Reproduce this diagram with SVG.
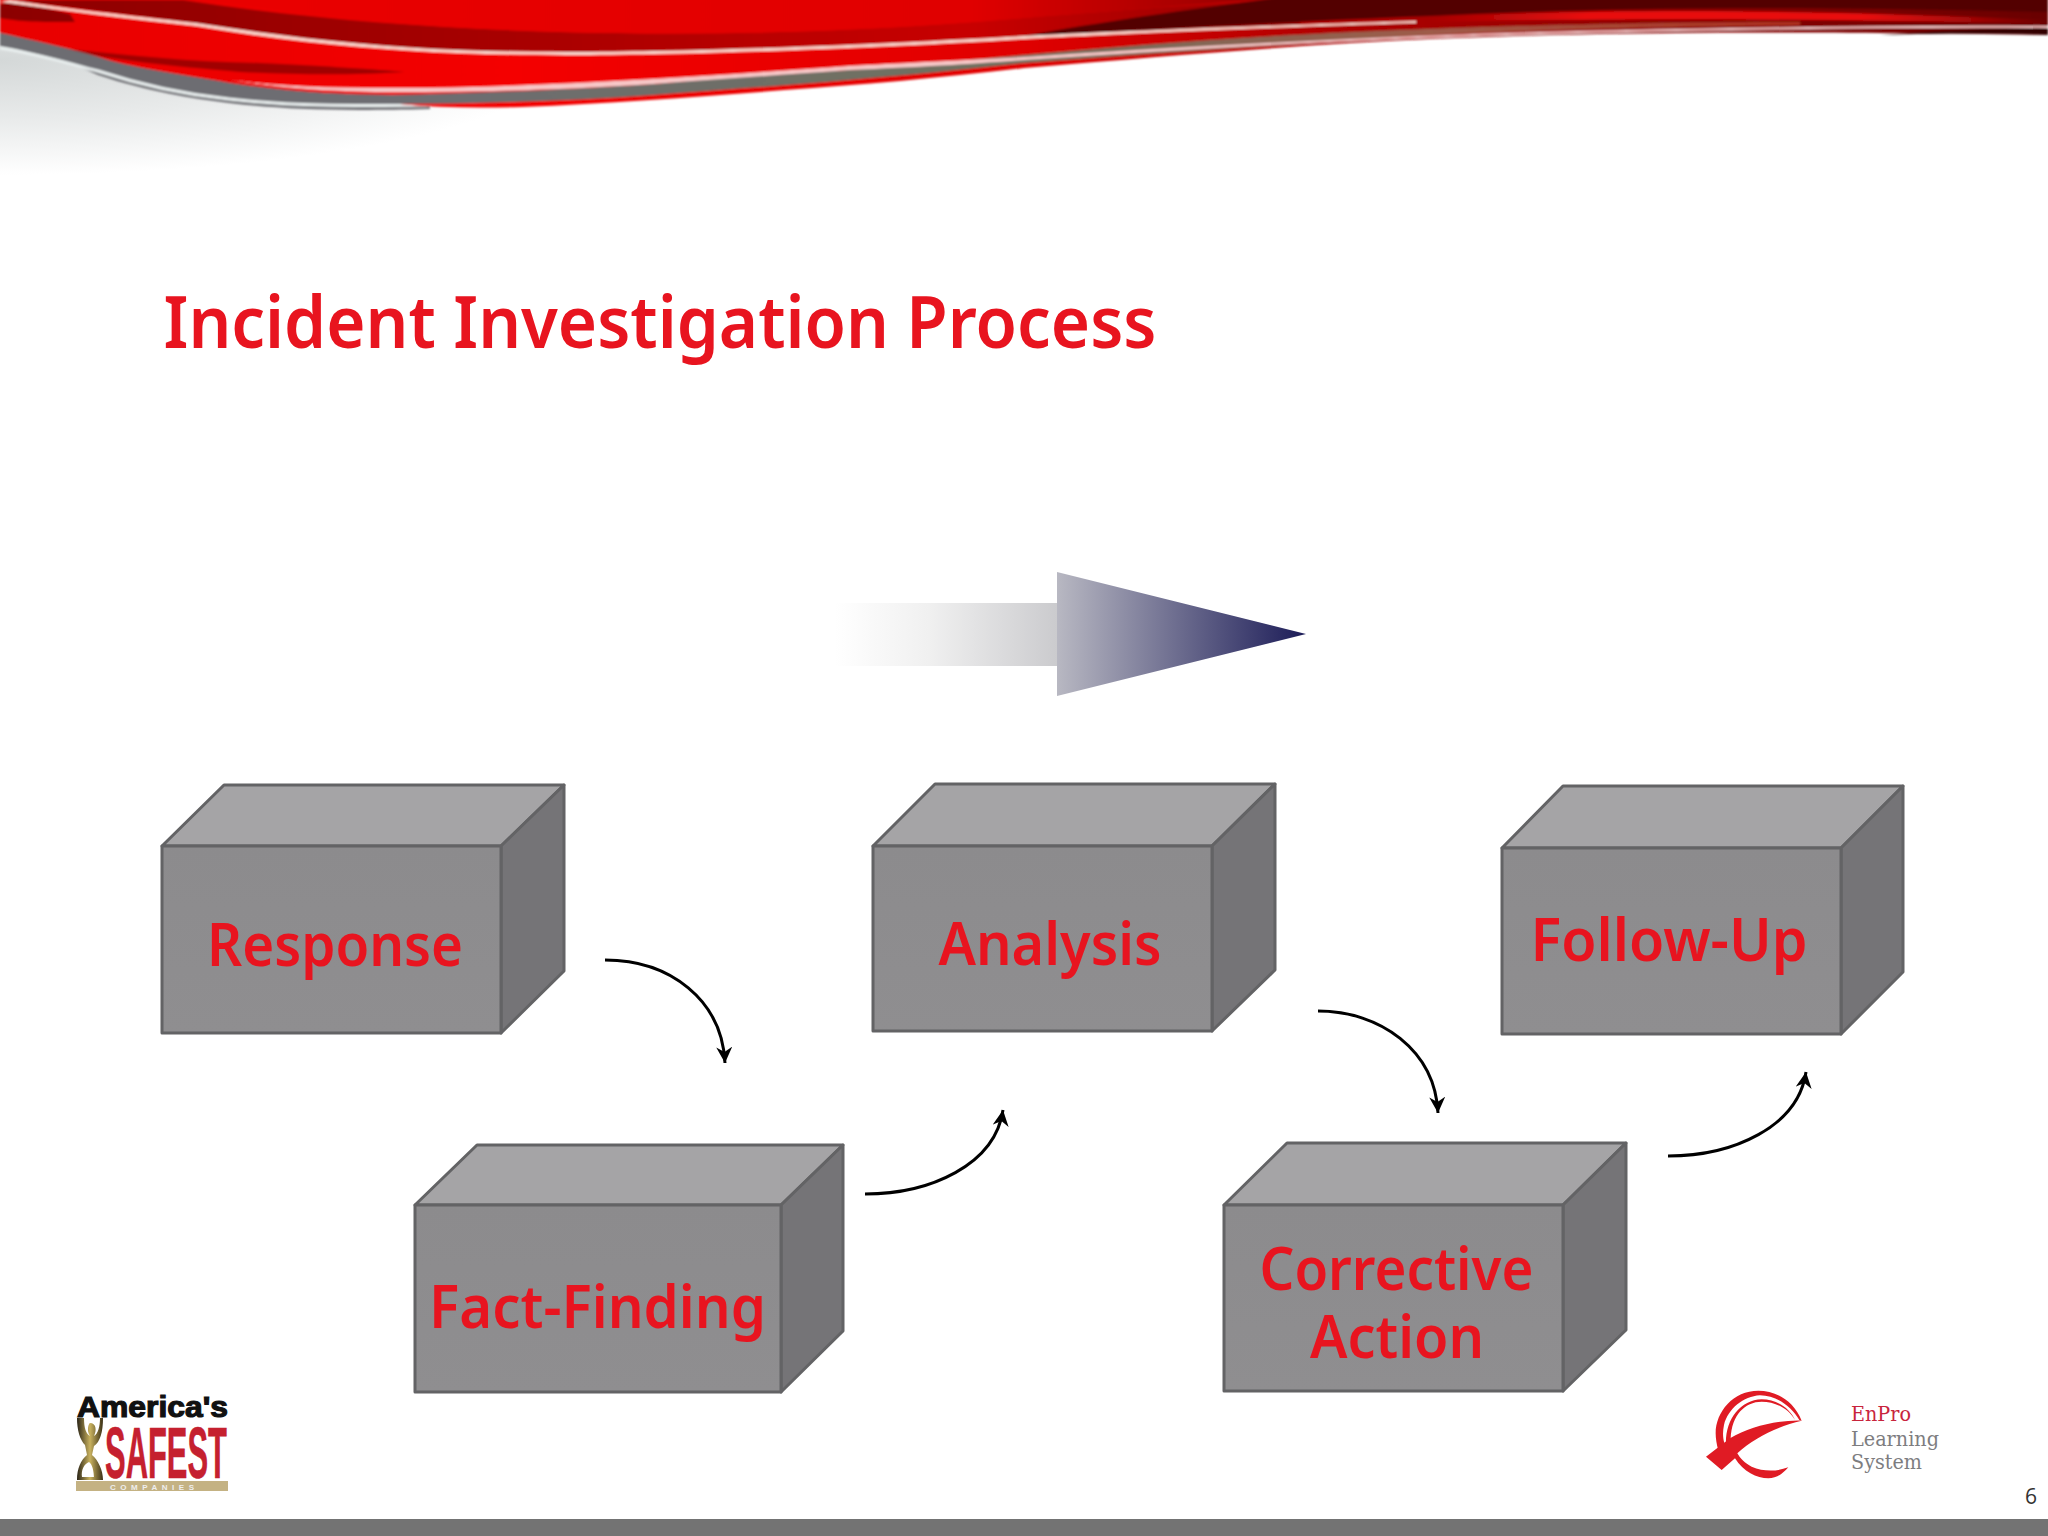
<svg xmlns="http://www.w3.org/2000/svg" width="2048" height="1536" viewBox="0 0 2048 1536">
<style>
.front{fill:url(#gF);stroke:#636365;stroke-width:3;stroke-linejoin:round}
.top{fill:#a5a4a6;stroke:#636365;stroke-width:3;stroke-linejoin:round}
.side{fill:#757477;stroke:#636365;stroke-width:3;stroke-linejoin:round}
.lbl{font-family:"Noto Sans","Open Sans",sans-serif;font-weight:600;fill:#e8141f;text-anchor:middle}
.box-label{font-size:60px}
.conn{fill:none;stroke:#000;stroke-width:3;marker-end:url(#ah)}
.slab{font-family:"DejaVu Serif",serif;font-size:20px}
</style>
<defs>
<linearGradient id="gF" x1="0" y1="0" x2="0" y2="1"><stop offset="0" stop-color="#8c8b8d"/><stop offset="1" stop-color="#8f8e90"/></linearGradient>
<marker id="ah" markerWidth="20" markerHeight="20" refX="16" refY="8" orient="auto" markerUnits="userSpaceOnUse"><path d="M0,0 L16,8 L0,16 L5,8 Z" fill="#000"/></marker>
<linearGradient id="gArrow" gradientUnits="userSpaceOnUse" x1="835" y1="0" x2="1306" y2="0"><stop offset="0" stop-color="#fff"/><stop offset=".2" stop-color="#f0f0f0"/><stop offset=".471" stop-color="#cbcbce"/><stop offset=".4715" stop-color="#b8b8c2"/><stop offset="1" stop-color="#1c1c58"/></linearGradient>
<linearGradient id="gRed" gradientUnits="userSpaceOnUse" x1="0" y1="0" x2="2048" y2="0"><stop offset="0" stop-color="#e80000"/><stop offset=".25" stop-color="#f40000"/><stop offset=".5" stop-color="#e00000"/><stop offset=".65" stop-color="#b00000"/><stop offset=".8" stop-color="#900000"/><stop offset="1" stop-color="#6a0000"/></linearGradient>
<linearGradient id="gDark" gradientUnits="userSpaceOnUse" x1="0" y1="0" x2="1300" y2="0"><stop offset="0" stop-color="#8c0000"/><stop offset=".4" stop-color="#a80000"/><stop offset=".75" stop-color="#c80000"/><stop offset="1" stop-color="#900000"/></linearGradient>
<linearGradient id="gTop" gradientUnits="userSpaceOnUse" x1="180" y1="0" x2="1400" y2="0"><stop offset="0" stop-color="#ea0000"/><stop offset=".65" stop-color="#e00000"/><stop offset="1" stop-color="#700000"/></linearGradient>
<linearGradient id="gBand" gradientUnits="userSpaceOnUse" x1="390" y1="0" x2="1800" y2="0"><stop offset="0" stop-color="#6d6d72"/><stop offset=".45" stop-color="#70705e"/><stop offset=".75" stop-color="#a05a48"/><stop offset="1" stop-color="#b03020"/></linearGradient>
<linearGradient id="gStreak" gradientUnits="userSpaceOnUse" x1="1430" y1="0" x2="2048" y2="0"><stop offset="0" stop-color="#e81010" stop-opacity="0"/><stop offset=".25" stop-color="#e81010"/><stop offset=".7" stop-color="#e81010"/><stop offset="1" stop-color="#e81010" stop-opacity="0"/></linearGradient>
<radialGradient id="gShadow" gradientUnits="userSpaceOnUse" cx="0" cy="0" r="1" gradientTransform="translate(0 60) scale(560 115)"><stop offset="0" stop-color="#d4d8d8"/><stop offset=".5" stop-color="#e8eaea"/><stop offset="1" stop-color="#fff"/></radialGradient>
<linearGradient id="gGold" x1="0" y1="0" x2="1" y2="0"><stop offset="0" stop-color="#2a2416"/><stop offset=".5" stop-color="#c9b25f"/><stop offset="1" stop-color="#3a3015"/></linearGradient>
<filter id="soft" x="-2%" y="-20%" width="104%" height="140%"><feGaussianBlur stdDeviation="1"/></filter>
</defs>
<rect width="2048" height="1536" fill="#fff"/>

<g id="header">
<ellipse cx="0" cy="60" rx="560" ry="115" fill="url(#gShadow)"/>
<g filter="url(#soft)">
<path d="M0,46 C40,52 70,62 98,75 C150,92 190,98 229,103 C290,110 340,111 430,109 V92 L229,80 L98,55 L0,30 Z" fill="#6d6d72"/>
<path d="M0,48 C40,54 70,64 98,71 C150,88 190,95 229,99 C290,106 350,106 430,105" fill="none" stroke="#e9efef" stroke-width="3"/>
<path d="M0,-4 H2048 V35 C1900,33 1780,32 1677,33 C1560,34 1460,37 1350,43 C1250,49 1140,58 1024,68 C940,78 860,85 784,90 C700,97 610,103 522,107 C480,108 440,108 400,104 L392,95 C340,95 290,92 229,83 C180,74 130,68 98,57 C60,46 30,40 0,33 Z" fill="url(#gRed)"/>
<path d="M0,5 L10,0 L196,23 C290,38 380,47 457,50 C540,53 600,52 653,51 C800,48 920,42 1024,37 L1300,24 L1300,0 C1200,4 1100,12 1024,18 C860,32 720,36 560,32 C430,28 300,18 183,0 L10,0 L70,14 L75,22 C40,22 20,22 0,18 Z" fill="url(#gDark)"/>
<path d="M183,-4 C300,18 430,28 560,32 C720,36 860,32 1024,18 C1100,12 1200,4 1300,-4 Z" fill="url(#gTop)"/>
<path d="M1290,-4 H2048 V12 C1800,6 1620,7 1430,16 C1280,22 1150,30 1024,36 C1100,22 1200,8 1290,-4 Z" fill="#520000"/>
<path d="M1430,17 C1600,9 1800,9 2048,20 V24 C1800,18 1600,18 1430,22 Z" fill="url(#gStreak)"/>
<path d="M1880,35 C1950,33 2000,33 2048,35 V28 C2000,29 1940,30 1880,35 Z" fill="#300000"/>
<path d="M65,49 C130,55 190,62 261,63 C320,66 360,68 405,72 C340,76 290,74 240,72 C170,66 110,60 65,49 Z" fill="#a00000"/>
<path d="M0,33 C30,40 60,46 98,57 C130,68 180,74 229,83 C290,92 340,95 392,95 C480,93 560,90 653,84 C720,78 780,74 849,70 C920,65 970,60 1024,55 C1150,44 1250,36 1400,30 C1560,24 1700,22 1800,22 L1800,25 C1600,27 1500,31 1350,40 C1240,48 1130,55 1024,63 C960,70 900,76 849,80 C780,86 720,90 653,95 C570,101 480,104 392,104 L229,97 L98,68 L0,45 Z" fill="url(#gBand)"/>
<path d="M229,80 C290,88 340,88 392,88 C480,88 560,84 653,79 C720,75 780,71 849,66 C920,62 970,60 1024,57 C1130,50 1240,44 1350,39 C1460,34 1560,31 1677,29 C1800,27 1920,25 2048,26 V28 C1920,27 1800,29 1677,31 C1560,33 1460,36 1350,41 C1240,46 1130,53 1024,60 C970,64 920,67 849,70 C780,75 720,79 653,84 C560,90 480,92 392,92 C340,92 280,88 229,80 Z" fill="#f8c8c8"/>
<path d="M10,0 C60,8 130,16 196,23 C290,38 380,47 457,50 C540,53 600,52 653,51 C800,48 920,42 1024,36 C1100,32 1250,26 1416,21 L1416,23 C1250,28 1100,35 1024,39 C920,45 800,51 653,54 C600,55 540,56 457,53 C380,50 290,42 196,26 C130,19 60,10 0,2 Z" fill="#f9d6cc"/>
</g>
</g>

<g id="title"><text x="660" y="348" class="lbl" font-size="72" textLength="993" lengthAdjust="spacingAndGlyphs">Incident Investigation Process</text></g>

<g id="direction-arrow"><path d="M835,603 H1057 V572 L1306,634 L1057,696 V666 H835 Z" fill="url(#gArrow)"/></g>

<g id="connectors">
<path class="conn" d="M605,960 C670,960 722,1000 725,1063"/>
<path class="conn" d="M865,1194 C930,1194 995,1165 1003,1110"/>
<path class="conn" d="M1318,1011 C1380,1011 1435,1050 1438,1113"/>
<path class="conn" d="M1668,1156 C1733,1156 1798,1127 1806,1072"/>
</g>

<g id="node-response">
<path class="top" d="M162,846 L224,785 H564 L501,846 Z"/><path class="side" d="M501,846 L564,785 V971 L501,1033 Z"/><rect class="front" x="162" y="846" width="339" height="187"/>
<text x="335" y="966" class="lbl box-label" textLength="256" lengthAdjust="spacingAndGlyphs">Response</text>
</g>
<g id="node-fact-finding">
<path class="top" d="M415,1205 L477,1145 H843 L781,1205 Z"/><path class="side" d="M781,1205 L843,1145 V1331 L781,1392 Z"/><rect class="front" x="415" y="1205" width="366" height="187"/>
<text x="597.5" y="1328" class="lbl box-label" textLength="337" lengthAdjust="spacingAndGlyphs">Fact-Finding</text>
</g>
<g id="node-analysis">
<path class="top" d="M873,846 L935,784 H1275 L1212,846 Z"/><path class="side" d="M1212,846 L1275,784 V970 L1212,1031 Z"/><rect class="front" x="873" y="846" width="339" height="185"/>
<text x="1050" y="965" class="lbl box-label" textLength="223" lengthAdjust="spacingAndGlyphs">Analysis</text>
</g>
<g id="node-corrective-action">
<path class="top" d="M1224,1205 L1287,1143 H1626 L1563,1205 Z"/><path class="side" d="M1563,1205 L1626,1143 V1330 L1563,1391 Z"/><rect class="front" x="1224" y="1205" width="339" height="186"/>
<text class="lbl" font-size="56"><tspan x="1396.5" y="1290" font-size="60" textLength="274" lengthAdjust="spacingAndGlyphs">Corrective</tspan><tspan x="1397" y="1358" font-size="60" textLength="174" lengthAdjust="spacingAndGlyphs">Action</tspan></text>
</g>
<g id="node-follow-up">
<path class="top" d="M1502,848 L1563,786 H1903 L1841,848 Z"/><path class="side" d="M1841,848 L1903,786 V972 L1841,1034 Z"/><rect class="front" x="1502" y="848" width="339" height="186"/>
<text x="1669" y="961" class="lbl box-label" textLength="277" lengthAdjust="spacingAndGlyphs">Follow-Up</text>
</g>

<g id="logo-americas-safest">
<text x="77" y="1417" font-family="Liberation Sans,sans-serif" font-weight="700" font-size="30" fill="#111" stroke="#111" stroke-width="1.2" textLength="151" lengthAdjust="spacingAndGlyphs">America's</text>
<text x="105" y="1478" font-family="Liberation Sans,sans-serif" font-weight="700" font-size="72" fill="#c5202f" stroke="#c5202f" stroke-width=".6" textLength="122" lengthAdjust="spacingAndGlyphs">SAFEST</text>
<rect x="76" y="1481" width="152" height="10" fill="#c4b283"/>
<text x="152" y="1490" font-family="Liberation Sans,sans-serif" font-weight="700" font-size="8" fill="#eee" text-anchor="middle" textLength="84">COMPANIES</text>
<path d="M77,1418 H84 C84,1428 86,1434 90,1436 C86,1430 89,1423 90,1423 C96,1423 97,1430 94,1436 C98,1434 100,1426 100,1418 H103 C103,1432 100,1442 94,1446 L92,1455 C98,1460 103,1470 103,1480 H94 C94,1470 92,1464 89,1462 C84,1464 81,1470 82,1477 H94 V1480 H77 C77,1468 81,1460 87,1455 L85,1445 C80,1440 77,1430 77,1418 Z" fill="url(#gGold)"/>
</g>

<g id="logo-enpro">
<g transform="translate(1680 1370) scale(.3333)" fill="#e01b24">
<path d="M365,152 C340,90 285,62 235,62 C160,62 107,125 107,190 C107,205 110,225 115,240 L133,220 C128,200 128,185 132,165 C145,115 190,80 240,76 C290,76 335,110 358,150 Z"/>
<path d="M345,150 C325,115 285,95 245,95 C195,95 155,135 152,205 L138,225 C135,150 180,90 245,88 C290,88 330,115 345,150 Z"/>
<path d="M365,152 C290,150 210,170 150,205 L78,260 L125,300 L165,265 C190,305 230,325 265,325 C290,325 310,310 325,292 C290,305 250,305 215,290 C195,280 180,265 172,250 C220,205 290,170 365,152 Z"/>
</g>
<text x="1851" y="1421" class="slab" fill="#c8243c" textLength="60" lengthAdjust="spacingAndGlyphs">EnPro</text>
<text x="1851" y="1446" class="slab" fill="#7d7d7f" textLength="88" lengthAdjust="spacingAndGlyphs">Learning</text>
<text x="1851" y="1469" class="slab" fill="#7d7d7f" textLength="71" lengthAdjust="spacingAndGlyphs">System</text>
</g>

<g id="footer">
<text x="2025" y="1504" font-family="Open Sans,sans-serif" font-size="21" fill="#333">6</text>
<rect x="0" y="1519" width="2048" height="17" fill="#737373"/>
</g>
</svg>
